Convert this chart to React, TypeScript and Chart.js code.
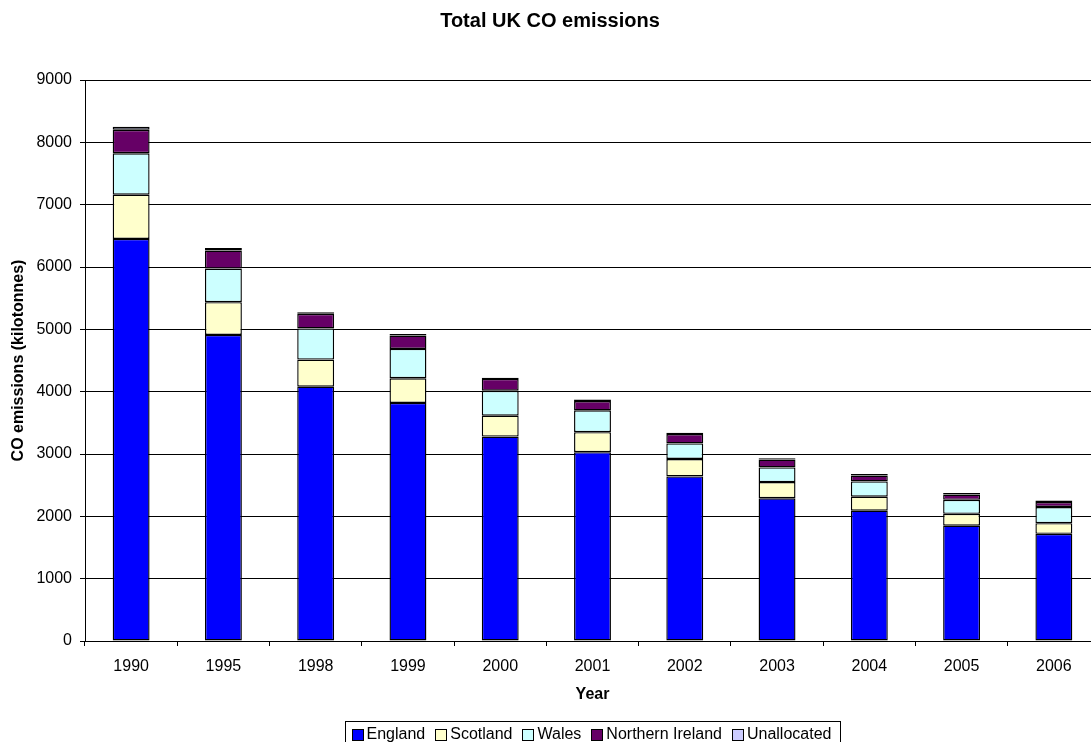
import { useEffect, useRef } from 'react';
import { Chart, registerables } from 'chart.js';

Chart.register(...registerables);

const years = ['1990', '1995', '1998', '1999', '2000', '2001', '2002', '2003', '2004', '2005', '2006'];
const england = [6450, 4910, 4080, 3820, 3280, 3030, 2640, 2290, 2090, 1850, 1720];
const scotland = [710, 525, 435, 395, 335, 320, 280, 260, 225, 190, 170];
const wales = [665, 540, 500, 470, 400, 350, 250, 235, 245, 225, 260];
const northernIreland = [375, 290, 235, 215, 190, 150, 150, 125, 95, 85, 80];
const unallocated = [50, 40, 25, 25, 20, 25, 20, 20, 25, 25, 25];

const FONT = '"Liberation Sans", Arial, Helvetica, sans-serif';

const seriesDefs = [
  { label: 'England', data: england, color: '#0000FF' },
  { label: 'Scotland', data: scotland, color: '#FFFFCC' },
  { label: 'Wales', data: wales, color: '#CCFFFF' },
  { label: 'Northern Ireland', data: northernIreland, color: '#660066' },
  { label: 'Unallocated', data: unallocated, color: '#CCCCFF' },
];

// Framed legend strip under the axis, drawn from the chart's datasets
const boxedLegend = {
  id: 'boxedLegend',
  afterDraw(chart: any) {
    const ctx = chart.ctx as CanvasRenderingContext2D;
    const sw = 11;
    const gapText = 4;
    const gapItem = 10;
    const padL = 5;
    const padR = 10;
    ctx.save();
    ctx.font = `16px ${FONT}`;
    const items = chart.data.datasets.map((ds: any) => ({
      label: ds.label as string,
      color: ds.backgroundColor as string,
      w: ctx.measureText(ds.label).width,
    }));
    const total =
      padL + padR +
      items.reduce((s: number, it: any) => s + sw + gapText + it.w, 0) +
      gapItem * (items.length - 1);
    const cx = (chart.chartArea.left + chart.chartArea.right) / 2;
    const left = Math.round(cx - total / 2) + 0.5;
    const top = chart.height - 38.5;
    const h = 28;
    ctx.fillStyle = '#fff';
    ctx.fillRect(left, top, total, h);
    ctx.strokeStyle = '#000';
    ctx.lineWidth = 1;
    ctx.strokeRect(left, top, Math.round(total), h);
    const midY = top + 12.5;
    let x = Math.round(left + padL) + 0.5;
    ctx.textBaseline = 'middle';
    ctx.textAlign = 'left';
    items.forEach((it: any) => {
      const bx = Math.round(x) + 0.5;
      const by = Math.round(midY - sw / 2) + 0.5;
      ctx.fillStyle = it.color;
      ctx.fillRect(bx, by, sw, sw);
      ctx.strokeStyle = '#000';
      ctx.strokeRect(bx, by, sw, sw);
      ctx.fillStyle = '#000';
      ctx.fillText(it.label, x + sw + gapText, midY + 1);
      x += sw + gapText + it.w + gapItem;
    });
    ctx.restore();
  },
};

export default function App() {
  const canvasRef = useRef<HTMLCanvasElement | null>(null);

  useEffect(() => {
    const canvas = canvasRef.current;
    if (!canvas) return;
    Chart.defaults.font.family = FONT;
    Chart.defaults.color = '#000';

    const chart = new Chart(canvas, {
      type: 'bar',
      data: {
        labels: years,
        datasets: seriesDefs.map((s) => ({
          label: s.label,
          data: s.data,
          backgroundColor: s.color,
          borderColor: '#000',
          borderWidth: 1.4,
          borderSkipped: false,
          barPercentage: 0.4,
          categoryPercentage: 1,
        })),
      },
      options: {
        responsive: false,
        animation: false,
        devicePixelRatio: 1,
        layout: { padding: { left: 0, right: 4, top: 0, bottom: 54 } },
        plugins: {
          legend: { display: false },
          tooltip: { enabled: false },
          title: {
            display: true,
            text: 'Total UK CO emissions',
            color: '#000',
            font: { family: FONT, size: 20, weight: 'bold' },
            padding: { top: 9, bottom: 47 },
          },
        },
        scales: {
          x: {
            stacked: true,
            grid: {
              offset: true,
              drawOnChartArea: false,
              drawTicks: true,
              tickLength: 5,
              color: '#000',
            },
            border: { color: '#000', width: 1 },
            ticks: {
              color: '#000',
              font: { family: FONT, size: 16 },
              padding: 11,
              maxRotation: 0,
              autoSkip: false,
            },
            title: {
              display: true,
              text: 'Year',
              color: '#000',
              font: { family: FONT, size: 16, weight: 'bold' },
              padding: { top: 0, bottom: 2 },
            },
            afterFit: (scale: any) => {
              scale.height = 65;
            },
          },
          y: {
            stacked: true,
            min: 0,
            max: 9000,
            grid: {
              color: '#000',
              tickLength: 5,
            },
            border: { color: '#000', width: 1 },
            ticks: {
              stepSize: 1000,
              color: '#000',
              font: { family: FONT, size: 16 },
              padding: 8,
              callback: (value: any) => String(value),
            },
            title: {
              display: true,
              text: 'CO emissions (kilotonnes)',
              color: '#000',
              font: { family: FONT, size: 16, weight: 'bold' },
              padding: { top: 9, bottom: 0 },
            },
            afterFit: (scale: any) => {
              scale.width = 85;
            },
          },
        },
      },
      plugins: [boxedLegend],
    });

    return () => {
      chart.destroy();
    };
  }, []);

  return (
    <div
      style={{
        position: 'fixed',
        left: 0,
        top: 0,
        width: 1091,
        height: 742,
        overflow: 'hidden',
        background: '#fff',
      }}
    >
      <canvas ref={canvasRef} width={1104} height={760} style={{ display: 'block' }} />
    </div>
  );
}
